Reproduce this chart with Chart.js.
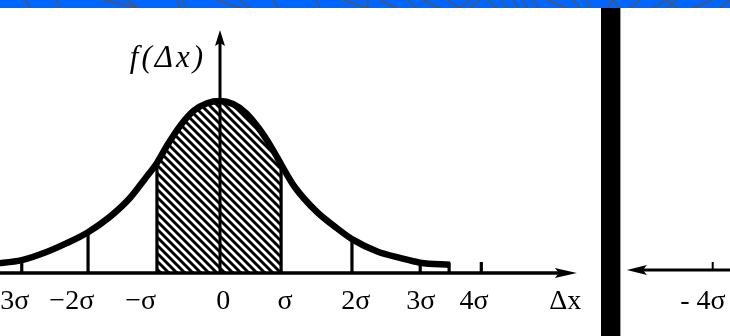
<!DOCTYPE html>
<html><head><meta charset="utf-8">
<script src="https://cdn.jsdelivr.net/npm/chart.js@4/dist/chart.umd.min.js"></script>
<style>
html,body{margin:0;padding:0;background:#fff;overflow:hidden;width:730px;height:336px;position:relative;}
#wrap{position:absolute;left:-40px;top:0;width:770px;height:336px;}
#band{position:absolute;left:0;top:0;width:730px;height:8px;z-index:3;display:block}
#bar{position:absolute;left:601px;top:8px;width:19px;height:328px;background:#000;border-right:1px solid #9a9a9a;z-index:3}
</style></head><body>
<div id="wrap"><canvas id="c" width="770" height="336"></canvas></div>
<svg id="band" width="730" height="8" viewBox="0 0 730 8" xmlns="http://www.w3.org/2000/svg">
<rect x="0" y="0" width="730" height="8" fill="#0066ff"/>
<g stroke="#555" stroke-width="1.4" fill="none">
<line x1="25" y1="0" x2="30" y2="8"/><line x1="55" y1="0" x2="60" y2="8"/>
<line x1="103" y1="0" x2="138" y2="8"/><line x1="127" y1="0" x2="137" y2="8"/>
<line x1="177" y1="0" x2="180" y2="8"/><line x1="183" y1="0" x2="185" y2="8"/>
<line x1="217" y1="0" x2="240" y2="8"/><line x1="240" y1="0" x2="250" y2="8"/>
<line x1="273" y1="0" x2="278" y2="8"/><line x1="317" y1="0" x2="320" y2="8"/>
<line x1="343" y1="0" x2="368" y2="8"/><line x1="368" y1="0" x2="368" y2="8"/>
<line x1="380" y1="0" x2="397" y2="8"/><line x1="407" y1="0" x2="417" y2="8"/>
<line x1="423" y1="0" x2="440" y2="8"/><polyline points="447,0 460,8 470,0"/>
<line x1="470" y1="8" x2="480" y2="0"/><line x1="487" y1="0" x2="497" y2="8"/>
<line x1="502" y1="0" x2="507" y2="8"/><line x1="513" y1="0" x2="518" y2="8"/>
<line x1="523" y1="0" x2="527" y2="8"/><line x1="533" y1="0" x2="538" y2="8"/>
<line x1="547" y1="0" x2="567" y2="8"/><line x1="573" y1="0" x2="580" y2="8"/>
<line x1="587" y1="0" x2="590" y2="8"/><polyline points="607,8 613,0 620,8"/>
<line x1="630" y1="8" x2="640" y2="0"/><line x1="653" y1="8" x2="667" y2="0"/>
<line x1="667" y1="0" x2="677" y2="8"/><line x1="667" y1="8" x2="677" y2="0"/>
<line x1="693" y1="8" x2="713" y2="0"/><line x1="720" y1="8" x2="730" y2="0"/>
</g></svg>
<div id="bar"></div>
<script>
// Curve f(Δx) (x in units of σ)
const curveX = [-4.0, -3.38, -3.05, -2.7, -2.35, -2.03, -1.7, -1.4, -1.15, -0.97, -0.8, -0.6, -0.4, -0.2, 0, 0.2, 0.4, 0.6, 0.8, 0.95, 1.15, 1.49, 1.8, 2.05, 2.42, 2.77, 3.08, 3.54];
const curveY = [0.016, 0.023, 0.030, 0.047, 0.070, 0.095, 0.130, 0.172, 0.220, 0.256, 0.300, 0.345, 0.378, 0.395, 0.400, 0.393, 0.372, 0.336, 0.290, 0.250, 0.200, 0.142, 0.104, 0.077, 0.050, 0.035, 0.024, 0.019];
// Ordinates drawn from the axis up to the curve
const ordinateX = [-3.05, -2.03, -0.97, 0.94, 2.03, 3.08];
// Hatched interval (−σ … σ)
const hatchRange = [-0.97, 0.94];
// Tick labels and where they sit
const tickPos = [-3.28, -2.28, -1.22, 0.05, 1.0, 2.09, 3.09, 3.91, 5.31, 7.43];
const tickLabels = ['−3σ', '−2σ', '−σ', '0', 'σ', '2σ', '3σ', '4σ', 'Δx', '- 4σ'];
// Short tick marks on the axes
const shortTicks = [4.02];
const rightFigTicks = [7.58];
const xArrowTip = 5.49;
const rightArrowTip = 6.26;
const yArrowTop = 0.565;

function curveAt(u) {
  for (let i = 0; i < curveX.length - 1; i++) {
    if (u >= curveX[i] && u <= curveX[i + 1]) {
      const t = (u - curveX[i]) / (curveX[i + 1] - curveX[i]);
      return curveY[i] + t * (curveY[i + 1] - curveY[i]);
    }
  }
  return 0;
}

function makeHatch() {
  const s = 8, t = document.createElement('canvas');
  t.width = s; t.height = s;
  const g = t.getContext('2d');
  g.strokeStyle = '#000'; g.lineWidth = 2.9;
  g.beginPath();
  g.moveTo(-1, -1); g.lineTo(s + 1, s + 1);
  g.moveTo(-1, s - 1); g.lineTo(1, s + 1);
  g.moveTo(s - 1, -1); g.lineTo(s + 1, 1);
  g.stroke();
  return document.getElementById('c').getContext('2d').createPattern(t, 'repeat');
}

const pts = curveX.map((x, i) => ({ x: x, y: curveY[i] }));
const hatchPts = [{ x: hatchRange[0], y: curveAt(hatchRange[0]) }]
  .concat(pts.filter(p => p.x > hatchRange[0] && p.x < hatchRange[1]))
  .concat([{ x: hatchRange[1], y: curveAt(hatchRange[1]) }]);

const deco = {
  id: 'deco',
  afterDatasetsDraw(chart) {
    const c = chart.ctx, xs = chart.scales.x, ys = chart.scales.y;
    const y0 = ys.getPixelForValue(0);
    c.save();
    c.strokeStyle = '#000'; c.fillStyle = '#000'; c.lineCap = 'butt';
    // ordinates
    c.lineWidth = 3.2;
    ordinateX.forEach(u => {
      const px = xs.getPixelForValue(u);
      c.beginPath(); c.moveTo(px, y0); c.lineTo(px, ys.getPixelForValue(curveAt(u)) - 1); c.stroke();
    });
    // short ticks
    shortTicks.forEach(u => {
      const px = xs.getPixelForValue(u);
      c.beginPath(); c.moveTo(px, y0); c.lineTo(px, y0 - 11); c.stroke();
    });
    // end of curve
    const ex = xs.getPixelForValue(curveX[curveX.length - 1]);
    c.beginPath(); c.moveTo(ex - 1, y0); c.lineTo(ex - 1, ys.getPixelForValue(curveY[curveY.length - 1]) - 2); c.stroke();
    // x axis with arrow
    const tip = xs.getPixelForValue(xArrowTip);
    c.lineWidth = 3.4;
    c.beginPath(); c.moveTo(xs.left, y0); c.lineTo(tip - 10, y0); c.stroke();
    c.beginPath(); c.moveTo(tip, y0); c.lineTo(tip - 22, y0 - 5); c.lineTo(tip - 18, y0); c.lineTo(tip - 22, y0 + 5); c.closePath(); c.fill();
    // y axis with arrow
    const ax = xs.getPixelForValue(0), top = ys.getPixelForValue(yArrowTop);
    c.lineWidth = 3;
    c.beginPath(); c.moveTo(ax, y0); c.lineTo(ax, top + 8); c.stroke();
    c.beginPath(); c.moveTo(ax, top); c.lineTo(ax - 5, top + 16); c.lineTo(ax, top + 13); c.lineTo(ax + 5, top + 16); c.closePath(); c.fill();
    // y label
    c.font = 'italic 31px "Liberation Serif"';
    c.letterSpacing = '3px';
    c.textAlign = 'right'; c.textBaseline = 'middle';
    c.fillText('f(Δx)', ax - 14, top + 29);
    c.letterSpacing = '0px';
    // second figure (partly visible): axis arrow pointing left
    const y1 = y0 - 3;
    const rt = xs.getPixelForValue(rightArrowTip);
    c.lineWidth = 3;
    c.beginPath(); c.moveTo(rt + 12, y1); c.lineTo(xs.right, y1); c.stroke();
    c.beginPath(); c.moveTo(rt, y1); c.lineTo(rt + 20, y1 - 5); c.lineTo(rt + 16, y1); c.lineTo(rt + 20, y1 + 5); c.closePath(); c.fill();
    c.lineWidth = 2;
    rightFigTicks.forEach(u => {
      const px = xs.getPixelForValue(u);
      c.beginPath(); c.moveTo(px, y1); c.lineTo(px, y1 - 8); c.stroke();
    });
    c.restore();
  }
};

new Chart(document.getElementById('c'), {
  type: 'line',
  data: {
    datasets: [
      { data: pts, borderColor: '#000', borderWidth: 6.5, pointRadius: 0, fill: false, cubicInterpolationMode: 'monotone', order: 0 },
      { data: hatchPts, borderWidth: 0, borderColor: 'rgba(0,0,0,0)', pointRadius: 0, fill: 'origin', backgroundColor: makeHatch(), cubicInterpolationMode: 'monotone', order: 1 }
    ]
  },
  options: {
    responsive: false,
    animation: false,
    devicePixelRatio: 1,
    layout: { padding: 0 },
    plugins: { legend: { display: false }, tooltip: { enabled: false }, title: { display: false } },
    scales: {
      x: {
        type: 'linear', min: -4.0, max: 7.846,
        grid: { display: false, drawTicks: false }, border: { display: false },
        afterBuildTicks: s => { s.ticks = tickPos.map(v => ({ value: v })); },
        afterFit: s => { s.height = 63; s.paddingLeft = 0; s.paddingRight = 0; },
        ticks: {
          autoSkip: false, maxRotation: 0, minRotation: 0, padding: 12, color: '#000',
          font: { family: '"Liberation Serif"', size: 28 },
          callback: (v, i) => tickLabels[i]
        }
      },
      y: { type: 'linear', display: false, min: 0, max: 0.635 }
    }
  },
  plugins: [deco]
});
</script>
</body></html>
